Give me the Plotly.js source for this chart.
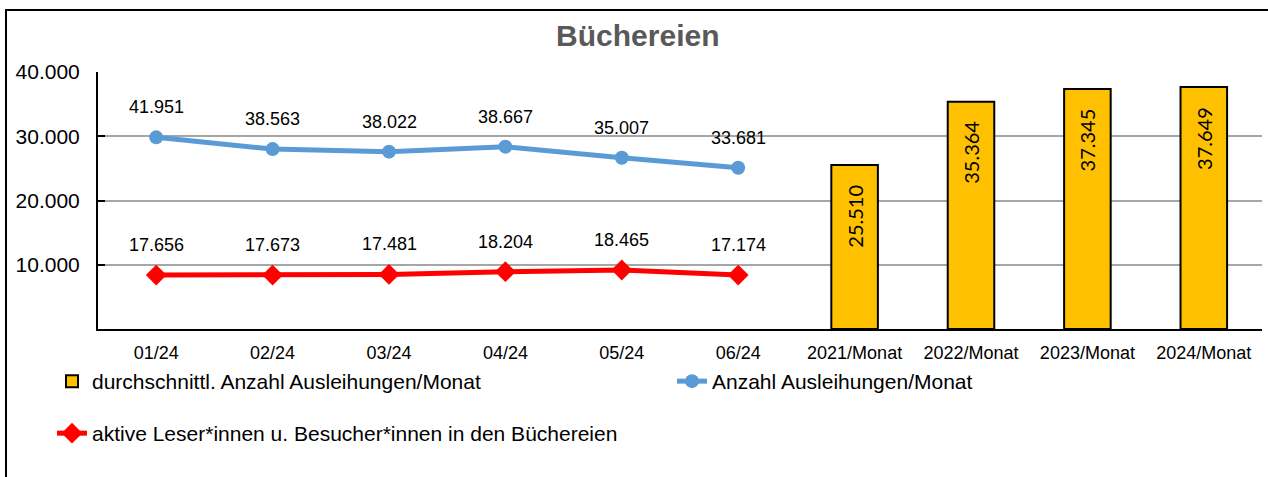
<!DOCTYPE html>
<html>
<head>
<meta charset="utf-8">
<script src="https://cdn.plot.ly/plotly-3.0.1.min.js"></script>
<style>html,body{margin:0;padding:0;background:#fff;}#chart{width:1268px;height:477px;}</style>
</head>
<body>
<div id="chart"></div>
<script>
// Categories
const categories = ['01/24','02/24','03/24','04/24','05/24','06/24','2021/Monat','2022/Monat','2023/Monat','2024/Monat'];
const monthCats = ['01/24','02/24','03/24','04/24','05/24','06/24'];
const yearCats = ['2021/Monat','2022/Monat','2023/Monat','2024/Monat'];

// Bar series: average loans per month
const avgLoans = [25510, 35364, 37345, 37649];
const avgLoansLabels = ['25.510','35.364','37.345','37.649'];

// Blue line: plotted positions and printed labels
const loansPlotted = [29830, 28000, 27600, 28380, 26660, 25100];
const loansLabels = ['41.951','38.563','38.022','38.667','35.007','33.681'];

// Red line: plotted positions and printed labels
const readersPlotted = [8400, 8400, 8500, 8920, 9180, 8400];
const readersLabels = ['17.656','17.673','17.481','18.204','18.465','17.174'];

// Y axis ticks
const yTickVals = [10000, 20000, 30000, 40000];
const yTickText = ['10.000','20.000','30.000','40.000'];

const baseFont = 'Liberation Sans, Arial, sans-serif';

const traces = [
  {
    type: 'bar', x: yearCats, y: avgLoans,
    name: 'durchschnittl. Anzahl Ausleihungen/Monat',
    marker: {color: '#FFC000', line: {color: '#000000', width: 2}},
    width: 0.4, legend: 'legend'
  },
  {
    type: 'scatter', mode: 'lines+markers', x: monthCats, y: loansPlotted,
    name: 'Anzahl Ausleihungen/Monat',
    line: {color: '#5B9BD5', width: 5},
    marker: {symbol: 'circle', size: 14, color: '#5B9BD5'},
    legend: 'legend3'
  },
  {
    type: 'scatter', mode: 'lines+markers', x: monthCats, y: readersPlotted,
    name: 'aktive Leser*innen u. Besucher*innen in den Büchereien',
    line: {color: '#FF0000', width: 5},
    marker: {symbol: 'diamond', size: 16, color: '#FF0000'},
    legend: 'legend2'
  }
];

const annotations = [];
monthCats.forEach((c, i) => {
  annotations.push({x: c, y: loansPlotted[i], xref: 'x', yref: 'y', text: loansLabels[i],
    showarrow: false, yshift: 30, font: {family: baseFont, size: 18, color: '#000'}});
  annotations.push({x: c, y: readersPlotted[i], xref: 'x', yref: 'y', text: readersLabels[i],
    showarrow: false, yshift: 30, font: {family: baseFont, size: 18, color: '#000'}});
});
yearCats.forEach((c, i) => {
  annotations.push({x: c, y: avgLoans[i], xref: 'x', yref: 'y', text: avgLoansLabels[i],
    showarrow: false, yshift: -51, textangle: -90,
    font: {family: 'Lato, Open Sans, sans-serif', size: 20, color: '#000'}});
});

const L = 98, R = 6, T = 72, B = 148;
const pw = 1268 - L - R, ph = 477 - T - B;
const px2x = p => (p - L) / pw;
const px2y = p => (477 - B - p) / ph;

const legendFont = {family: baseFont, size: 21, color: '#000'};

const layout = {
  width: 1268, height: 477,
  margin: {l: L, r: R, t: T, b: B, pad: 0},
  paper_bgcolor: '#ffffff', plot_bgcolor: '#ffffff',
  separators: ',.',
  font: {family: baseFont, size: 18, color: '#000'},
  title: {text: '<b>Büchereien</b>', x: 0.503, xanchor: 'center', y: 0.925, yanchor: 'middle',
    font: {family: baseFont, size: 30, color: '#595959'}},
  showlegend: true,
  legend: {orientation: 'h', x: px2x(52), xanchor: 'left', y: px2y(361), yanchor: 'top',
    font: legendFont, bgcolor: 'rgba(0,0,0,0)'},
  legend3: {orientation: 'h', x: px2x(672), xanchor: 'left', y: px2y(361), yanchor: 'top',
    font: legendFont, bgcolor: 'rgba(0,0,0,0)'},
  legend2: {orientation: 'h', x: px2x(52), xanchor: 'left', y: px2y(413), yanchor: 'top',
    font: legendFont, bgcolor: 'rgba(0,0,0,0)'},
  xaxis: {
    type: 'category', categoryorder: 'array', categoryarray: categories,
    range: [-0.5, categories.length - 0.5],
    showline: true, linecolor: '#000', linewidth: 2,
    showgrid: false, ticks: '', ticklabelstandoff: 6,
    tickfont: {family: baseFont, size: 18, color: '#000'}, zeroline: false
  },
  yaxis: {
    range: [0, 40000], tickvals: yTickVals, ticktext: yTickText,
    showline: true, linecolor: '#000', linewidth: 2,
    ticks: 'inside', ticklen: 7, tickwidth: 2, tickcolor: '#000',
    showgrid: true, gridcolor: '#A6A6A6', gridwidth: 2,
    zeroline: false, ticklabelstandoff: 12,
    tickfont: {family: baseFont, size: 21, color: '#000'}
  },
  shapes: [
    {type: 'rect', xref: 'paper', yref: 'paper',
     x0: px2x(6), x1: px2x(1290), y0: px2y(500), y1: px2y(10),
     line: {color: '#000', width: 2}, fillcolor: 'rgba(0,0,0,0)', layer: 'below'}
  ],
  annotations: annotations,
  bargap: 0.6
};

Plotly.newPlot('chart', traces, layout, {staticPlot: true, displayModeBar: false});
</script>
</body>
</html>
